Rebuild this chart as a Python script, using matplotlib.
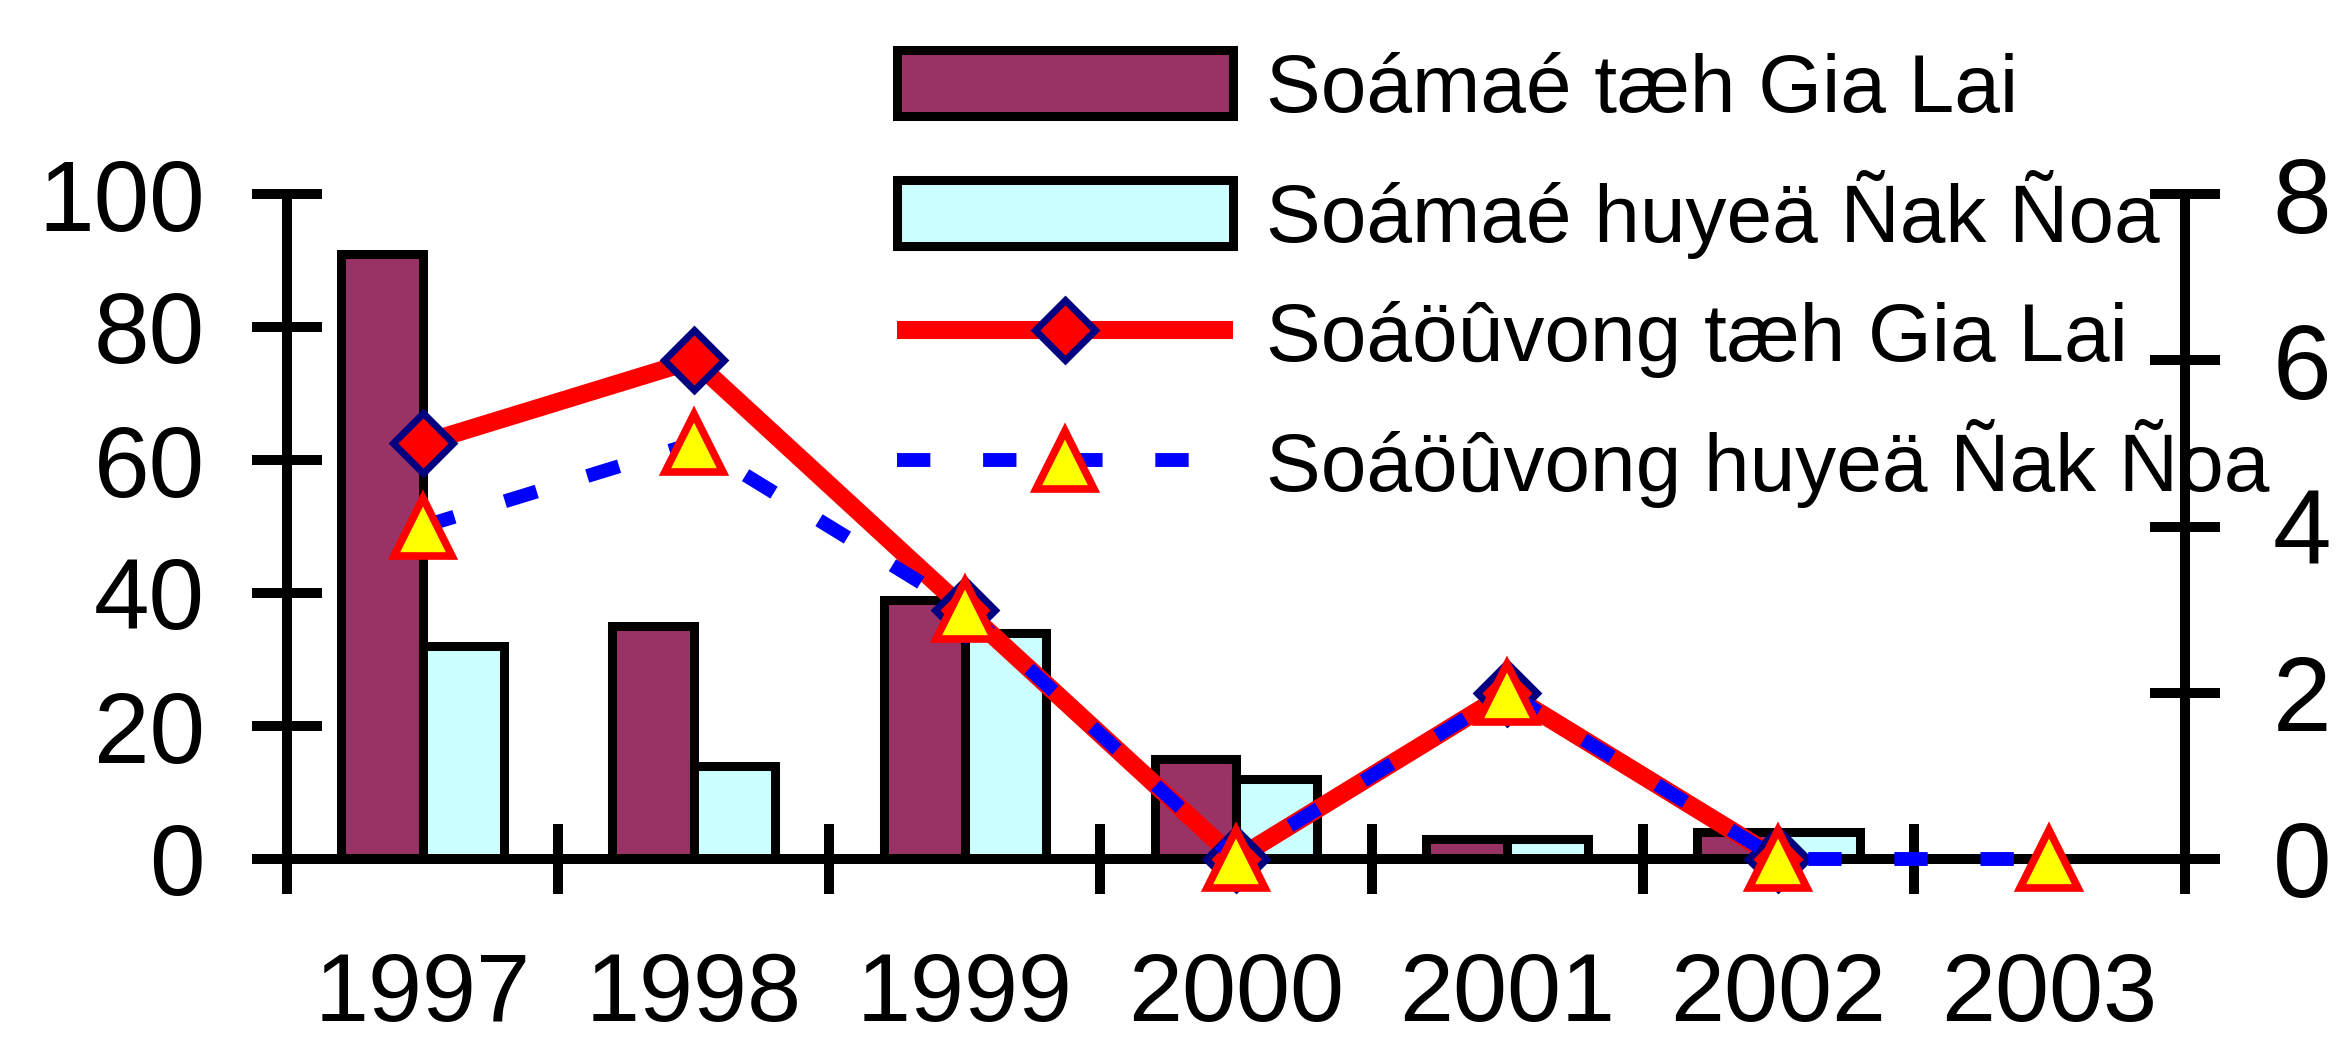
"""Cases and deaths, Gia Lai vs Dak Doa, 1997-2003."""

import matplotlib

matplotlib.use("Agg")
import matplotlib.pyplot as plt
import numpy as np

plt.rcParams["font.family"] = ["Liberation Sans", "DejaVu Sans"]

YEARS = ["1997", "1998", "1999", "2000", "2001", "2002", "2003"]
CASES_GIALAI = [91, 35, 39, 15, 3, 4, 0]
CASES_DAKDOA = [32, 14, 34, 12, 3, 4, 0]
DEATHS_GIALAI = [5, 6, 3, 0, 2, 0, np.nan]
DEATHS_DAKDOA = [4, 5, 3, 0, 2, 0, 0]
LABELS = [
    "Soámaé tæh Gia Lai",
    "Soámaé huyeä Ñak Ñoa",
    "Soáöûvong tæh Gia Lai",
    "Soáöûvong huyeä Ñak Ñoa",
]

W, H = 2338, 1038
SPINE_W = 7.2
TICK_LEN = 50


def main() -> None:
    fig = plt.figure(figsize=(W / 100, H / 100), dpi=100)
    ax = fig.add_axes([287 / W, 1 - 859 / H, (2185 - 287) / W, (859 - 194) / H])
    ax2 = ax.twinx()

    x = np.arange(len(YEARS))
    b1 = ax.bar(x - 0.15, CASES_GIALAI, width=0.3, color="#993366",
                edgecolor="black", linewidth=6.5, zorder=2)
    b2 = ax.bar(x + 0.15, CASES_DAKDOA, width=0.3, color="#CCFFFF",
                edgecolor="black", linewidth=6.5, zorder=2)

    l1, = ax2.plot(x, DEATHS_GIALAI, color="#FF0000", linewidth=13,
                   marker="D", markersize=31, markerfacecolor="#FF0000",
                   markeredgecolor="#000080", markeredgewidth=5,
                   solid_capstyle="butt", clip_on=False, zorder=3)
    l2, = ax2.plot(x, DEATHS_DAKDOA, color="#0000FF", linewidth=10,
                   linestyle=(0, (2.4, 3.8)), dash_capstyle="butt",
                   marker="^", markersize=42, markerfacecolor="#FFFF00",
                   markeredgecolor="#FF0000", markeredgewidth=5.5,
                   clip_on=False, zorder=4)

    ax.set_xlim(-0.5, len(YEARS) - 0.5)
    ax.set_ylim(0, 100)
    ax2.set_ylim(0, 8)
    ax.set_yticks(np.arange(0, 101, 20))
    ax2.set_yticks(np.arange(0, 9, 2))

    # category boundaries carry the tick marks, centres carry the labels
    ax.set_xticks(np.arange(-0.5, len(YEARS), 1.0))
    ax.set_xticklabels([])
    ax.set_xticks(x, minor=True)
    ax.set_xticklabels(YEARS, minor=True, fontsize=70)
    ax.tick_params(axis="x", which="major", direction="inout", length=TICK_LEN,
                   width=SPINE_W)
    ax.tick_params(axis="x", which="minor", length=0, pad=66)
    ax.tick_params(axis="y", direction="inout", length=TICK_LEN, width=SPINE_W,
                   labelsize=72, pad=34)
    ax2.tick_params(axis="y", direction="inout", length=TICK_LEN, width=SPINE_W,
                    labelsize=76, pad=38)

    for a in (ax, ax2):
        a.spines["top"].set_visible(False)
        for side in ("left", "right", "bottom"):
            a.spines[side].set_linewidth(SPINE_W)
    ax.spines["right"].set_visible(False)
    ax2.spines["left"].set_visible(False)
    ax2.spines["bottom"].set_visible(False)

    fig.legend([b1, b2, l1, l2], LABELS, loc="upper left",
               bbox_to_anchor=(897 / W, 1 - 50 / H), frameon=False,
               fontsize=59, handlelength=4.1, handleheight=0.87,
               handletextpad=0.4, labelspacing=0.5, borderpad=0,
               borderaxespad=0)

    fig.savefig("out.png", dpi=100)
    plt.close(fig)


if __name__ == "__main__":
    main()
